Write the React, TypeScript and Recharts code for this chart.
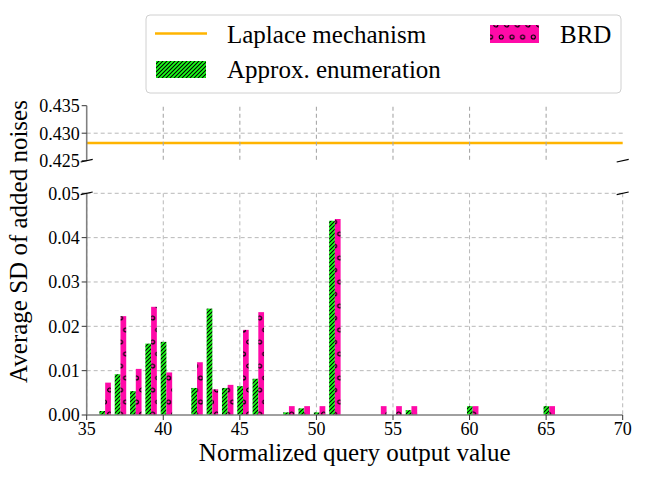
import React from 'react';
import { ComposedChart, Bar, Line, XAxis, YAxis, CartesianGrid } from 'recharts';

// ---- data ----
const QUERY_VALUES = [36, 37, 38, 39, 40, 42, 43, 44, 45, 46, 48, 49, 50, 51, 54, 55, 56, 60, 65];
const APPROX_SD = [0.0009, 0.0092, 0.0054, 0.0161, 0.0165, 0.0061, 0.024, 0.0061, 0.0065, 0.0082, 0.0006, 0.0015, 0.0006, 0.0438, 0, 0, 0.0011, 0.002, 0.002];
const BRD_SD = [0.0073, 0.0223, 0.0104, 0.0244, 0.0096, 0.0119, 0.0058, 0.0068, 0.0192, 0.0232, 0.002, 0.002, 0.002, 0.0442, 0.002, 0.002, 0.002, 0.002, 0.002];
const LAPLACE_X = [35, 70];
const LAPLACE_SD = [0.4282, 0.4282];
const X_TICKS = [35, 40, 45, 50, 55, 60, 65, 70];
const UPPER_TICKS = [0.425, 0.43, 0.435];
const LOWER_TICKS = [0, 0.01, 0.02, 0.03, 0.04, 0.05];

// ---- layout / style ----
const W = 648;
const H = 483;
const PLOT_L = 86.7;
const PLOT_R = 622.7;
const UP_TOP = 105.7;
const UP_BOT = 160.7;
const UP_H = 175;
const LO_TOP = 193.3;
const LO_BOT = 415;
const X_MIN = 35;
const X_MAX = 70;
const PX_PER_UNIT = (PLOT_R - PLOT_L) / (X_MAX - X_MIN);
const BAR_UNITS = 0.375;
const GROUP_SHIFT = 0.2;

const FONT = 'Liberation Serif';
const GREEN = '#1aff1a';
const PINK = '#ff0aa8';
const ORANGE = '#ffb400';
const SPINE = '#808080';
const GRID = '#b8b8b8';

const barRows = QUERY_VALUES.map((x, i) => ({ x, approx: APPROX_SD[i], brd: BRD_SD[i] }));
const laplaceRows = LAPLACE_X.map((x, i) => ({ x, laplace: LAPLACE_SD[i] }));

const spineStyle = { stroke: SPINE, strokeWidth: 1.6 };
const tickLineStyle = { stroke: '#333', strokeWidth: 1 };

const makeYTick = (digits: number) => (props: any) => (
  <text
    x={props.x}
    y={props.y}
    dy="0.355em"
    textAnchor="end"
    fontSize={18}
    fontFamily={FONT}
    fill="#000"
  >
    {Number(props.payload.value).toFixed(digits)}
  </text>
);

const XTick = (props: any) => (
  <text
    x={props.x}
    y={props.y}
    dy="0.71em"
    textAnchor="middle"
    fontSize={18}
    fontFamily={FONT}
    fill="#000"
  >
    {props.payload.value}
  </text>
);

function BreakMark({ x, y }: { x: number; y: number }) {
  return <line x1={x - 6} y1={y + 1.3} x2={x + 6} y2={y - 1.3} stroke="#000" strokeWidth={1.1} />;
}

export default function App() {
  return (
    <div style={{ position: 'absolute', left: 0, top: 0, width: W, height: H, background: '#fff', fontFamily: FONT }}>
      {/* lower panel */}
      <div style={{ position: 'absolute', left: 0, top: 0 }}>
        <ComposedChart
          width={W}
          height={H}
          data={barRows}
          margin={{ top: LO_TOP, right: W - PLOT_R, bottom: 0, left: 0 }}
          barGap={0}
          style={{ fontFamily: FONT }}
        >
          <CartesianGrid
            stroke={GRID}
            strokeDasharray="4 3"
            horizontalValues={[0.01, 0.02, 0.03, 0.04, 0.05]}
            verticalValues={X_TICKS}
          />
          <XAxis
            dataKey={(d: any) => d.x + GROUP_SHIFT}
            type="number"
            domain={[X_MIN, X_MAX]}
            ticks={X_TICKS}
            interval={0}
            height={H - LO_BOT}
            tickSize={5}
            tickMargin={2}
            tick={XTick}
            axisLine={spineStyle}
            tickLine={tickLineStyle}
            label={{
              value: 'Normalized query output value',
              position: 'insideBottom',
              offset: 22,
              style: { fontSize: 25, fill: '#000', fontFamily: FONT },
            }}
          />
          <YAxis
            type="number"
            domain={[0, 0.05]}
            ticks={LOWER_TICKS}
            interval={0}
            width={PLOT_L}
            tickSize={5}
            tickMargin={2}
            tick={makeYTick(2)}
            axisLine={spineStyle}
            tickLine={tickLineStyle}
          />
          <YAxis
            yAxisId="right"
            orientation="right"
            type="number"
            domain={[0, 1]}
            width={0}
            tick={false}
            tickLine={false}
            axisLine={spineStyle}
          />
          <Bar dataKey="approx" fill="url(#hatchGreen)" barSize={BAR_UNITS * PX_PER_UNIT} isAnimationActive={false} />
          <Bar dataKey="brd" fill="url(#circlesPink)" barSize={BAR_UNITS * PX_PER_UNIT} isAnimationActive={false} />
        </ComposedChart>
      </div>

      {/* upper panel */}
      <div style={{ position: 'absolute', left: 0, top: 0 }}>
        <ComposedChart
          width={W}
          height={UP_H}
          data={laplaceRows}
          margin={{ top: UP_TOP, right: W - PLOT_R, bottom: UP_H - UP_BOT, left: 0 }}
          style={{ fontFamily: FONT }}
        >
          <CartesianGrid
            stroke={GRID}
            strokeDasharray="4 3"
            horizontalValues={[0.43]}
            vertical={false}
          />
          <XAxis
            dataKey="x"
            type="number"
            domain={[X_MIN, X_MAX]}
            ticks={X_TICKS}
            interval={0}
            hide
          />
          <XAxis
            xAxisId="top"
            orientation="top"
            dataKey="x"
            type="number"
            domain={[X_MIN, X_MAX]}
            height={0}
            tick={false}
            tickLine={false}
            axisLine={spineStyle}
          />
          <YAxis
            type="number"
            domain={[0.425, 0.435]}
            ticks={UPPER_TICKS}
            interval={0}
            width={PLOT_L}
            tickSize={5}
            tickMargin={2}
            tick={makeYTick(3)}
            axisLine={spineStyle}
            tickLine={tickLineStyle}
          />
          <YAxis
            yAxisId="right"
            orientation="right"
            type="number"
            domain={[0, 1]}
            width={0}
            tick={false}
            tickLine={false}
            axisLine={spineStyle}
          />
          <Line
            dataKey="laplace"
            stroke={ORANGE}
            strokeWidth={2.5}
            dot={false}
            isAnimationActive={false}
          />
        </ComposedChart>
      </div>

      {/* overlay: patterns, upper grid, legend, y label, break marks */}
      <svg
        width={W}
        height={H}
        style={{ position: 'absolute', left: 0, top: 0, pointerEvents: 'none' }}
      >
        <defs>
          <pattern id="hatchGreen" patternUnits="userSpaceOnUse" width={4} height={4}>
            <rect width={4} height={4} fill={GREEN} />
            <path d="M-1,1 L1,-1 M0,4 L4,0 M3,5 L5,3" stroke="#000" strokeWidth={1.1} />
          </pattern>
          <pattern id="circlesPink" patternUnits="userSpaceOnUse" width={10.7} height={24}>
            <rect width={10.7} height={24} fill={PINK} />
            <circle cx={2.7} cy={6} r={2} fill="none" stroke="#000" strokeWidth={1.2} />
            <circle cx={8.05} cy={18} r={2} fill="none" stroke="#000" strokeWidth={1.2} />
          </pattern>
          <pattern id="circlesPinkLegend" patternUnits="userSpaceOnUse" x={1} y={19} width={10.7} height={24}>
            <rect width={10.7} height={24} fill={PINK} />
            <circle cx={2.7} cy={6} r={2} fill="none" stroke="#000" strokeWidth={1.1} />
            <circle cx={8.05} cy={18} r={2} fill="none" stroke="#000" strokeWidth={1.1} />
          </pattern>
        </defs>

        {/* upper panel vertical grid at the x tick positions */}
        {X_TICKS.slice(1, -1).map((v) => {
          const px = PLOT_L + (v - X_MIN) * PX_PER_UNIT;
          return (
            <line key={v} x1={px} x2={px} y1={UP_TOP + 1} y2={UP_BOT} stroke="#a8a8a8" strokeDasharray="4 3" strokeWidth={1.1} />
          );
        })}

        {/* legend */}
        <rect x={146} y={15} width={475} height={78} rx={4} ry={4} fill="#fff" fillOpacity={0.8} stroke="#d0d0d0" strokeWidth={1} />
        <line x1={155} y1={33.5} x2={207} y2={33.5} stroke={ORANGE} strokeWidth={2.5} />
        <text x={227} y={43} fontSize={25} fontFamily={FONT} fill="#000">Laplace mechanism</text>
        <rect x={156} y={61} width={50} height={17} fill="url(#hatchGreen)" />
        <text x={227} y={77.5} fontSize={25} fontFamily={FONT} fill="#000">Approx. enumeration</text>
        <rect x={490} y={25} width={49} height={18} fill="url(#circlesPinkLegend)" />
        <text x={560} y={43} fontSize={25} fontFamily={FONT} fill="#000">BRD</text>

        {/* y label */}
        <text
          x={27.3}
          y={241.5}
          transform="rotate(-90, 27.3, 241.5)"
          textAnchor="middle"
          fontSize={25}
          fontFamily={FONT}
          fill="#000"
        >
          Average SD of added noises
        </text>

        {/* axis break marks */}
        <BreakMark x={PLOT_L} y={UP_BOT} />
        <BreakMark x={PLOT_R} y={UP_BOT} />
        <BreakMark x={PLOT_L} y={LO_TOP} />
        <BreakMark x={PLOT_R} y={LO_TOP} />
      </svg>
    </div>
  );
}
